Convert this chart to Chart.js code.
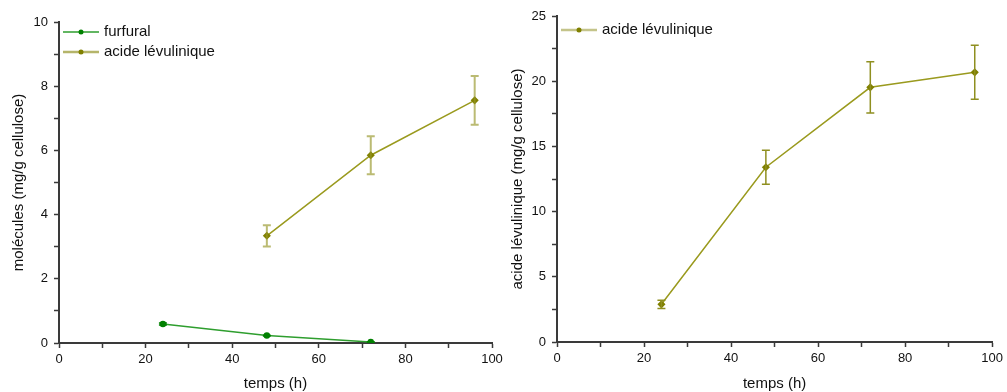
<!DOCTYPE html>
<html>
<head>
<meta charset="utf-8">
<script src="https://cdn.jsdelivr.net/npm/chart.js@4.4.1/dist/chart.umd.min.js"></script>
<style>
  html, body { margin: 0; padding: 0; background: #fff; }
  body { width: 1007px; height: 392px; position: relative; overflow: hidden; }
  #left { position: absolute; left: 0; top: 0; }
  #right { position: absolute; left: 498px; top: 0; }
</style>
</head>
<body>
<canvas id="left" width="520" height="392"></canvas>
<canvas id="right" width="509" height="392"></canvas>
<script>
// left chart data
const furfuralHours = [24, 48, 72];
const furfural = [0.59, 0.23, 0.03];
const furfuralErr = [0.03, 0.01, 0.01];
const levHoursLeft = [48, 72, 96];
const levLeft = [3.34, 5.85, 7.56];
const levLeftErr = [0.33, 0.59, 0.76];
// right chart data
const levHoursRight = [24, 48, 72, 96];
const levRight = [2.89, 13.40, 19.53, 20.68];
const levRightErr = [0.32, 1.31, 1.96, 2.07];

const FONT = "'Liberation Sans', Arial, sans-serif";
const OLIVE = '#808000';
const OLIVE_LINE = '#9a9a1e';
const GREEN = '#008000';
const GREEN_LINE = '#2e9e2e';

function points(xs, ys) {
    return xs.map((x, i) => ({ x: x, y: ys[i] }));
}

// error bars drawn with the chart scales
const errorBars = {
    id: 'errorBars',
    afterDatasetsDraw(chart) {
        const ctx = chart.ctx;
        const yScale = chart.scales.y;
        chart.data.datasets.forEach((ds, di) => {
            if (!ds.errors) return;
            const meta = chart.getDatasetMeta(di);
            ctx.save();
            ctx.strokeStyle = ds.errorColor;
            ctx.lineWidth = ds.errorWidth;
            meta.data.forEach((pt, i) => {
                const v = ds.data[i].y;
                const e = ds.errors[i];
                const yTop = yScale.getPixelForValue(v + e);
                const yBot = yScale.getPixelForValue(v - e);
                const x = pt.x;
                ctx.beginPath();
                ctx.moveTo(x, yTop); ctx.lineTo(x, yBot);
                ctx.moveTo(x - 4, yTop); ctx.lineTo(x + 4, yTop);
                ctx.moveTo(x - 4, yBot); ctx.lineTo(x + 4, yBot);
                ctx.stroke();
            });
            ctx.restore();
        });
    }
};

// legend with line + marker inside the plot area
const lineLegend = {
    id: 'lineLegend',
    afterDraw(chart) {
        const ctx = chart.ctx;
        const area = chart.chartArea;
        const opts = chart.options.plugins.lineLegend;
        ctx.save();
        chart.data.datasets.forEach((ds, i) => {
            const y = area.top + opts.top + i * 20;
            const x0 = area.left + 4;
            ctx.strokeStyle = ds.legendLine || ds.borderColor;
            ctx.lineWidth = ds.legendWidth || 1.5;
            ctx.beginPath();
            ctx.moveTo(x0, y); ctx.lineTo(x0 + 36, y);
            ctx.stroke();
            ctx.fillStyle = ds.pointBackgroundColor;
            ctx.beginPath();
            ctx.arc(x0 + 18, y, 2.5, 0, Math.PI * 2);
            ctx.fill();
            ctx.fillStyle = '#111';
            ctx.font = '15px ' + FONT;
            ctx.textBaseline = 'middle';
            ctx.fillText(ds.label, x0 + 41, y);
        });
        ctx.restore();
    }
};

function axes(yMax, yStep, yLabelEvery, yTitle, xHeight, titlePad) {
    const axisColor = '#3a3a3a';
    return {
        x: {
            type: 'linear', min: 0, max: 100,
            ticks: {
                stepSize: 10,
                padding: 4,
                color: '#111',
                font: { family: FONT, size: 13 },
                callback: v => (v % 20 === 0 ? v : '')
            },
            grid: { drawOnChartArea: false, drawTicks: true, tickLength: 5, color: axisColor, tickWidth: 1.5 },
            border: { display: true, color: axisColor, width: 2 },
            title: { display: true, text: 'temps (h)', color: '#111', font: { family: FONT, size: 15 }, padding: { top: 0, bottom: -1 } },
            afterFit: s => { s.height = xHeight; }
        },
        y: {
            min: 0, max: yMax,
            ticks: {
                stepSize: yStep,
                padding: 6,
                color: '#111',
                font: { family: FONT, size: 13 },
                callback: v => (v % yLabelEvery === 0 ? v : '')
            },
            grid: { drawOnChartArea: false, drawTicks: true, tickLength: 5, color: axisColor, tickWidth: 1.5 },
            border: { display: true, color: axisColor, width: 2 },
            title: { display: true, text: yTitle, color: '#111', font: { family: FONT, size: 15 }, padding: { top: titlePad, bottom: 0 } },
            afterFit: s => { s.width = 59; }
        }
    };
}

new Chart(document.getElementById('left'), {
    type: 'line',
    data: {
        datasets: [{
            label: 'furfural',
            data: points(furfuralHours, furfural),
            errors: furfuralErr,
            errorColor: GREEN, errorWidth: 1.5,
            borderColor: GREEN_LINE, borderWidth: 1.5,
            pointBackgroundColor: GREEN, pointBorderColor: GREEN,
            pointRadius: 2.5, pointStyle: 'circle'
        }, {
            label: 'acide lévulinique',
            data: points(levHoursLeft, levLeft),
            errors: levLeftErr,
            errorColor: 'rgba(150,150,40,0.65)', errorWidth: 2,
            borderColor: OLIVE_LINE, borderWidth: 1.5,
            legendLine: '#b5b56a', legendWidth: 2.5,
            pointBackgroundColor: OLIVE, pointBorderColor: OLIVE,
            pointRadius: 3, pointStyle: 'rectRot'
        }]
    },
    options: {
        responsive: false,
        animation: false,
        layout: { padding: { left: 0, top: 22, right: 28, bottom: 0 } },
        scales: axes(10, 1, 2, 'molécules (mg/g cellulose)', 49, 10),
        plugins: { legend: { display: false }, tooltip: { enabled: false }, lineLegend: { top: 10 } }
    },
    plugins: [errorBars, lineLegend]
});

new Chart(document.getElementById('right'), {
    type: 'line',
    data: {
        datasets: [{
            label: 'acide lévulinique',
            data: points(levHoursRight, levRight),
            errors: levRightErr,
            errorColor: '#8f8f20', errorWidth: 1.5,
            borderColor: OLIVE_LINE, borderWidth: 1.5,
            legendLine: '#c4c48a', legendWidth: 2.5,
            pointBackgroundColor: OLIVE, pointBorderColor: OLIVE,
            pointRadius: 3, pointStyle: 'rectRot'
        }]
    },
    options: {
        responsive: false,
        animation: false,
        layout: { padding: { left: 0, top: 16, right: 11, bottom: 0 } },
        scales: axes(25, 2.5, 5, 'acide lévulinique (mg/g cellulose)', 50, 11),
        plugins: { legend: { display: false }, tooltip: { enabled: false }, lineLegend: { top: 14 } }
    },
    plugins: [errorBars, lineLegend]
});
</script>
</body>
</html>
